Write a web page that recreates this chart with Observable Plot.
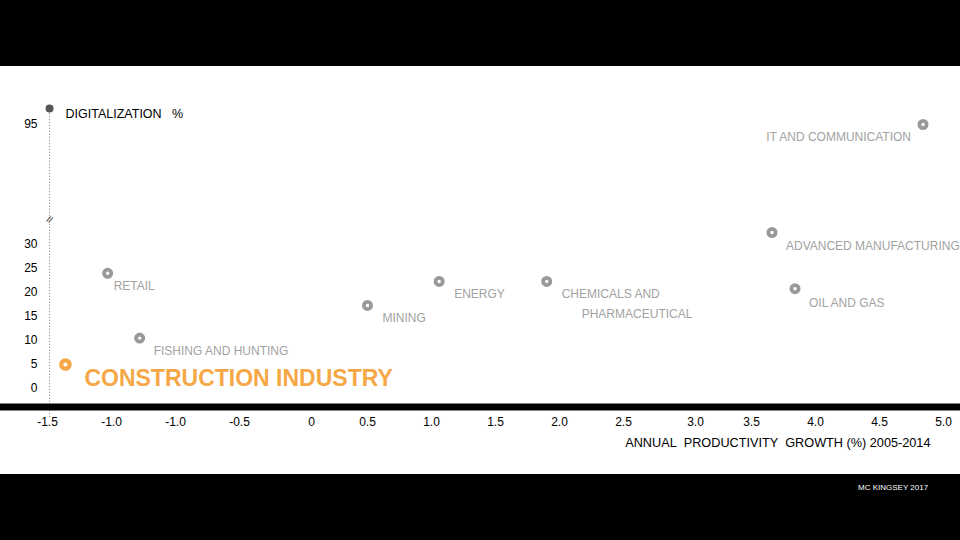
<!DOCTYPE html>
<html><head><meta charset="utf-8">
<script src="https://cdn.jsdelivr.net/npm/d3@7"></script>
<script src="https://cdn.jsdelivr.net/npm/@observablehq/plot@0.6"></script>
<style>
html,body{margin:0;padding:0;background:#000;}
#wrap{width:960px;height:540px;background:#000;font-family:"Liberation Sans",Arial,sans-serif;}
#top{height:66px;background:#000;}
#chart{height:408px;background:#fff;}
#chart svg{display:block;}
#bottom{height:66px;position:relative;background:#000;}
#caption{position:absolute;left:858px;top:9px;color:#fff;font-size:8px;white-space:nowrap;}
</style></head>
<body><div id="wrap"><div id="top"></div><div id="chart"></div><div id="bottom"><div id="caption">MC KINGSEY 2017</div></div></div>
<script>
const sectors = ["CONSTRUCTION INDUSTRY","RETAIL","FISHING AND HUNTING","MINING","ENERGY","CHEMICALS AND PHARMACEUTICAL","ADVANCED MANUFACTURING","OIL AND GAS","IT AND COMMUNICATION"];
const productivityGrowth = [-1.86,-1.53,-1.28,0.5,1.06,1.9,3.66,3.84,4.84];
const digitalization = [5,24,10.5,17.3,22.3,22.3,32.5,20.8,95];
const xTickValues = [-2,-1.5,-1,-0.5,0.0625,0.5,1,1.5,2,2.5,3.0625,3.5,4,4.5,5];
const xTickLabels = ["-1.5","-1.0","-1.0","-0.5","0","0.5","1.0","1.5","2.0","2.5","3.0","3.5","4.0","4.5","5.0"];
const yTickValues = [0,5,10,15,20,25,30,95];
const yAxisTop = 105;
const yBreak = 35.5;
const axisOriginX = -1.984;

// broken y axis: values above the break are compressed
const breakAt = 35;
const compress = 3;
const brokenAxis = v => v <= breakAt ? v : breakAt + (v - breakAt) / compress;

const data = sectors.map((s,i)=>({sector:s, x:productivityGrowth[i], y:digitalization[i]}));
const highlight = "CONSTRUCTION INDUSTRY";
const orange = "#F6A847";
const grey = "#999999";
const labelGrey = "#a2a2a2";
const labelMap = new Map(xTickValues.map((t,i)=>[t, xTickLabels[i]]));

// label layout (offsets in pixels)
const labelLayout = {
  "RETAIL": [{text:"RETAIL", dx:6, dy:13}],
  "FISHING AND HUNTING": [{text:"FISHING AND HUNTING", dx:14, dy:13}],
  "MINING": [{text:"MINING", dx:15, dy:13}],
  "ENERGY": [{text:"ENERGY", dx:15, dy:13}],
  "CHEMICALS AND PHARMACEUTICAL": [{text:"CHEMICALS AND", dx:15, dy:13},{text:"PHARMACEUTICAL", dx:35, dy:33}],
  "ADVANCED MANUFACTURING": [{text:"ADVANCED MANUFACTURING", dx:14, dy:14}],
  "OIL AND GAS": [{text:"OIL AND GAS", dx:14, dy:14}],
  "IT AND COMMUNICATION": [{text:"IT AND COMMUNICATION", dx:-12, dy:13, anchor:"end"}]
};

const labelMarks = [];
for (const d of data) {
  if (d.sector === highlight) continue;
  for (const l of labelLayout[d.sector]) {
    labelMarks.push(Plot.text([d], {x:"x", y:"y", text: () => l.text, dx:l.dx, dy:l.dy, textAnchor: l.anchor || "start", fill: labelGrey, fontSize: 12}));
  }
}

const chart = Plot.plot({
  width: 960,
  height: 408,
  marginLeft: 0, marginRight: 0, marginTop: 0, marginBottom: 67.5,
  style: {background: "white", fontFamily: "'Liberation Sans', Arial, sans-serif", color: "black"},
  x: {domain: [-2, 5], range: [47, 943], axis: null},
  y: {transform: brokenAxis, domain: [0, brokenAxis(95)], range: [322, 58], axis: null},
  marks: [
    Plot.ruleX([axisOriginX], {y1: -6, y2: yAxisTop, stroke: "#777", strokeWidth: 1, strokeDasharray: "1,2"}),
    Plot.dot([{x: axisOriginX, y: yAxisTop}], {x:"x", y:"y", r: 4, fill: "#555"}),
    Plot.text([{x: axisOriginX, y: yAxisTop}], {x:"x", y:"y", text: () => "DIGITALIZATION\u00a0\u00a0\u00a0%", dx: 16, dy: 5, textAnchor: "start", fill: "black", fontSize: 12.5}),
    Plot.text([{x: axisOriginX, y: yBreak}], {x:"x", y:"y", text: () => "//", fontSize: 9, fill: "#333", rotate: 25}),
    Plot.text(yTickValues, {x: () => -2, y: d => d, text: d => String(d), dx: -10, textAnchor: "end", fill: "black", fontSize: 12}),
    Plot.frame({anchor: "bottom", stroke: "black", strokeWidth: 7}),
    Plot.axisX(xTickValues, {anchor: "bottom", tickSize: 0, tickPadding: 10, tickFormat: d => labelMap.get(d), fontSize: 12, fill: "black", label: null}),
    Plot.text(["ANNUAL\u00a0\u00a0PRODUCTIVITY\u00a0\u00a0GROWTH\u00a0(%)\u00a02005-2014"], {frameAnchor: "bottom-right", dx: -30, dy: 39.5, textAnchor: "end", fill: "black", fontSize: 12.7}),
    Plot.dot(data.filter(d => d.sector !== highlight), {x:"x", y:"y", r: 3.6, stroke: grey, strokeWidth: 3.8, fill: "white"}),
    Plot.dot(data.filter(d => d.sector === highlight), {x:"x", y:"y", r: 4.2, stroke: orange, strokeWidth: 4.2, fill: "white"}),
    Plot.text(data.filter(d => d.sector === highlight), {x:"x", y:"y", text: "sector", dx: 19, dy: 14, textAnchor: "start", fill: orange, fontSize: 23, fontWeight: "bold"}),
    ...labelMarks
  ]
});
document.getElementById("chart").appendChild(chart);
</script>
</body></html>
